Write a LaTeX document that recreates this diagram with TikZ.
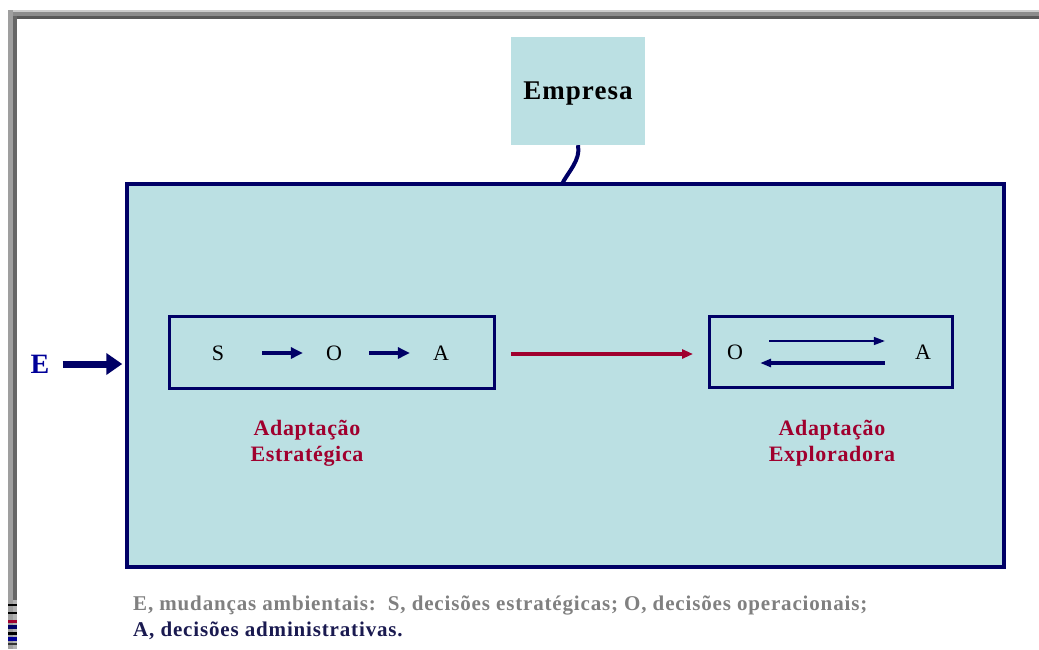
\documentclass[tikz,border=0pt]{standalone}
\usepackage{fontspec}
\setmainfont{Liberation Serif}
\usetikzlibrary{arrows.meta}
\definecolor{panel}{HTML}{BBE0E3}
\definecolor{navy}{HTML}{000066}
\definecolor{deepred}{HTML}{A0002E}
\definecolor{eblue}{HTML}{000099}
\definecolor{notegray}{HTML}{808080}
\definecolor{notenavy}{HTML}{1A1A50}
\begin{document}
\begin{tikzpicture}[x=1pt,y=-1pt,
  panelbox/.style={draw=navy, fill=panel, line width=4.5pt, inner sep=0pt},
  innerbox/.style={draw=navy, line width=3pt, inner sep=0pt},
  letter/.style={inner sep=0pt, font=\fontsize{22}{22}\selectfont},
  flow/.style={navy, line width=4pt, -{Triangle[length=12pt,width=11pt]}},
  swap/.style={navy, -{Triangle[length=11pt,width=8pt]}},
  label/.style={deepred, align=center, inner sep=0pt,
    font=\fontsize{22}{26}\selectfont\bfseries\addfontfeature{LetterSpace=3}},
]
\useasboundingbox (0,0) rectangle (1039,649);
\fill[white] (0,0) rectangle (1039,649);

% window frame
\fill[gray!40] (8,10) rectangle (1039,12);
\fill[gray!90] (8,12) rectangle (1039,16);
\fill[black!65] (8,16) rectangle (1039,19);
\fill[gray!75] (8,10) rectangle (13,649);
\fill[black!60] (13,16) rectangle (17,600);
\fill[gray!60] (13,600) rectangle (17,649);
\fill[black] (8,604) rectangle (17,606);
\fill[black] (8,612) rectangle (17,614);
\fill[deepred] (8,620) rectangle (17,623);
\fill[navy] (8,625) rectangle (17,629);
\fill[black] (8,632) rectangle (17,635);
\fill[eblue] (8,637) rectangle (17,641);
\fill[black!80] (8,643) rectangle (17,645);

% company box and the main panel
\node[fill=panel, minimum width=134pt, minimum height=108pt, inner sep=0pt,
  font=\fontsize{27}{27}\selectfont\bfseries\addfontfeature{LetterSpace=4}] (emp) at (578,91)
  {\raisebox{-8pt}[0pt][0pt]{Empresa}};
\node[panelbox, minimum width=877pt, minimum height=383pt] (big) at (565.5,375.5) {};
\coordinate (link) at (562,184);
\draw[navy, line width=4pt] (emp.south) .. controls (581,160) and (568,172) .. (link);

% strategic adaptation
\node[innerbox, minimum width=325pt, minimum height=72pt] (left) at (331.5,352) {};
\node[letter] (s1) at (218,353) {S};
\node[letter] (o1) at (334,353) {O};
\node[letter] (a1) at (441,353) {A};
\draw[flow, shorten <=38pt, shorten >=23pt] (s1) -- (o1);
\draw[flow, shorten <=27pt, shorten >=23pt] (o1) -- (a1);
\node[label] (lab1) at (307,443) {Adaptação\\Estratégica};

% exploratory adaptation
\node[innerbox, minimum width=243pt, minimum height=71pt] (right) at (830.5,351.5) {};
\node[letter] (o2) at (735,352) {O};
\node[letter] (a2) at (923,352) {A};
\draw[swap, line width=1.5pt, shorten <=26pt, shorten >=30pt]
  ([yshift=11pt]o2.east) -- ([yshift=11pt]a2.west);
\draw[swap, line width=3.5pt, shorten <=30pt, shorten >=17pt]
  ([yshift=-11pt]a2.west) -- ([yshift=-11pt]o2.east);
\node[label] (lab2) at (832,443) {Adaptação\\Exploradora};

% transition between the two modes
\draw[deepred, line width=3.5pt, -{Triangle[length=11pt,width=9pt]}, shorten <=15.5pt, shorten >=14.5pt]
  ([yshift=-2pt]left.east) -- ([yshift=-2.5pt]right.west);

% environmental input
\node[eblue, inner sep=0pt, font=\fontsize{28}{28}\selectfont\bfseries] (E) at (40,364) {E};
\draw[navy, line width=7pt, -{Triangle[length=16pt,width=21pt]}, shorten <=13pt, shorten >=2.5pt]
  (E) -- (E -| big.west);

% legend
\node[anchor=north west, align=left, inner sep=0pt,
  font=\fontsize{21}{26}\selectfont\bfseries\addfontfeature{LetterSpace=4}] (note) at (133,596)
  {\textcolor{notegray}{E, mudanças ambientais:\ \ S, decisões estratégicas; O, decisões operacionais;}\\
   \textcolor{notenavy}{A, decisões administrativas.}};
\end{tikzpicture}
\end{document}
